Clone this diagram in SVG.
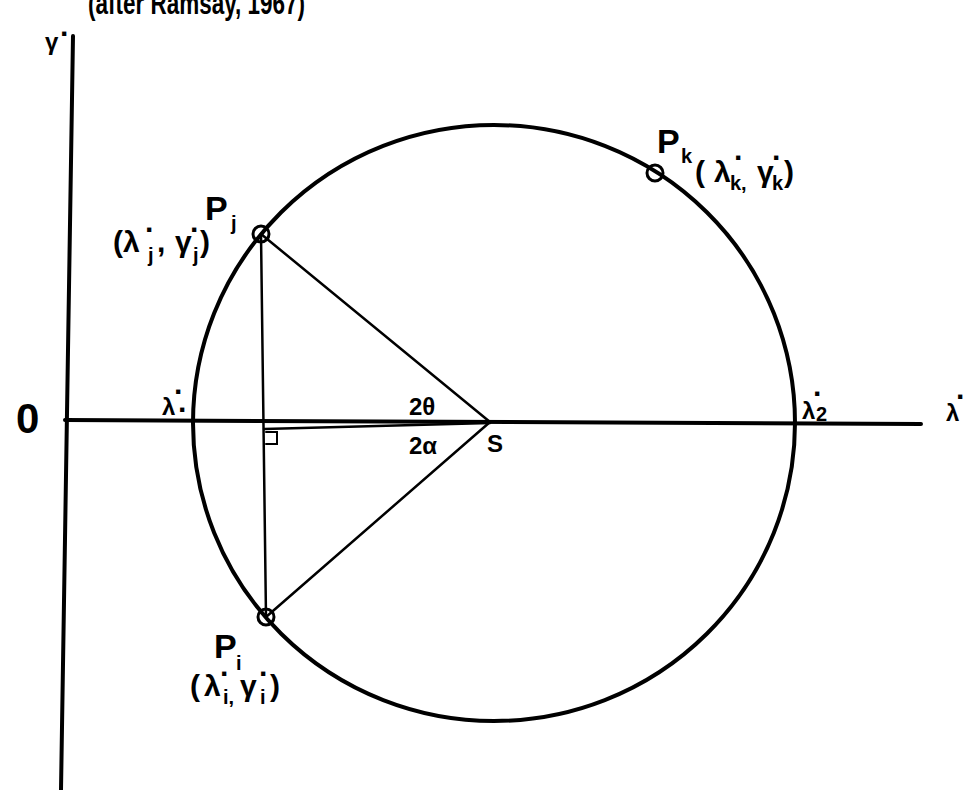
<svg xmlns="http://www.w3.org/2000/svg" width="963" height="790" viewBox="0 0 963 790">
<style>
.ln{stroke:#000;fill:none;stroke-linecap:round}
.ax{stroke-width:4}
.th{stroke-width:2.5}
.mk{stroke:#000;stroke-width:3;fill:none}
text{font-family:"Liberation Sans","DejaVu Sans",sans-serif;fill:#000;font-weight:bold}
.P{font-size:34px}
.c{font-size:30px}
.s{font-size:20px}
.d{font-size:30px}
.m{font-size:24px}
</style>
<rect width="963" height="790" fill="#fff"/>
<text x="88" y="14" font-size="32" textLength="217" lengthAdjust="spacingAndGlyphs">(after Ramsay, 1967)</text>
<g id="connectors">
  <line id="y-axis" class="ln ax" x1="73" y1="36" x2="61" y2="790"/>
  <line id="x-axis" class="ln ax" x1="65" y1="420" x2="921" y2="424"/>
  <ellipse id="mohr-circle" class="ln" stroke-width="4" cx="494" cy="423" rx="301" ry="298"/>
  <line id="chord" class="ln th" x1="261" y1="234" x2="266" y2="617"/>
  <line id="pj-s" class="ln th" x1="261" y1="234" x2="490" y2="422"/>
  <line id="pi-s" class="ln th" x1="266" y1="617" x2="490" y2="422"/>
  <line id="perp" class="ln th" x1="264" y1="429" x2="490" y2="423"/>
  <polyline id="right-angle" class="ln" stroke-width="2" points="266,432 277,432 277,444 266,444"/>
</g>
<g id="node-pj">
  <circle class="mk" cx="261" cy="234" r="8"/>
  <text x="205" y="220" class="P">P</text>
  <text x="231" y="230" class="s">j</text>
  <text x="113" y="252" class="c">(λ</text>
  <text x="145" y="240" class="d">·</text>
  <text x="148" y="262" class="s">j</text>
  <text x="157" y="252" class="c">,</text>
  <text x="175" y="252" class="c">γ</text>
  <text x="190" y="240" class="d">·</text>
  <text x="193" y="262" class="s">j</text>
  <text x="200" y="252" class="c">)</text>
</g>
<g id="node-pk">
  <circle class="mk" cx="655" cy="173" r="8"/>
  <text x="657" y="153" class="P">P</text>
  <text x="681" y="163" class="s">k</text>
  <text x="695" y="182" class="c">(</text>
  <text x="714" y="182" class="c">λ</text>
  <text x="734" y="168" class="d">·</text>
  <text x="730" y="190" class="s">k,</text>
  <text x="757" y="182" class="c">γ</text>
  <text x="772" y="168" class="d">·</text>
  <text x="772" y="190" class="s">k</text>
  <text x="784" y="182" class="c">)</text>
</g>
<g id="node-pi">
  <circle class="mk" cx="266" cy="617" r="8"/>
  <text x="214" y="658" class="P">P</text>
  <text x="236" y="670" class="s">i</text>
  <text x="190" y="696" class="c">(</text>
  <text x="204" y="696" class="c">λ</text>
  <text x="220" y="684" class="d">·</text>
  <text x="223" y="704" class="s">i,</text>
  <text x="240" y="696" class="c">γ</text>
  <text x="259" y="684" class="d">·</text>
  <text x="260" y="704" class="s">i</text>
  <text x="270" y="696" class="c">)</text>
</g>
<g id="node-s">
  <text x="409" y="415" class="m">2θ</text>
  <text x="409" y="454" class="m">2α</text>
  <text x="487" y="452" class="m">S</text>
</g>
<g id="labels">
  <text x="16" y="433" font-size="42">0</text>
  <text x="45" y="50" class="m">γ</text>
  <text x="60" y="44" class="d">·</text>
  <text x="162" y="415" class="m">λ</text>
  <text x="174" y="402" class="d">·</text>
  <text x="178" y="420" class="d">·</text>
  <text x="802" y="419" class="m">λ</text>
  <text x="813" y="404" class="d">·</text>
  <text x="816" y="421" class="s">2</text>
  <text x="946" y="421" class="m">λ</text>
  <text x="956" y="407" class="d">·</text>
</g>
</svg>
